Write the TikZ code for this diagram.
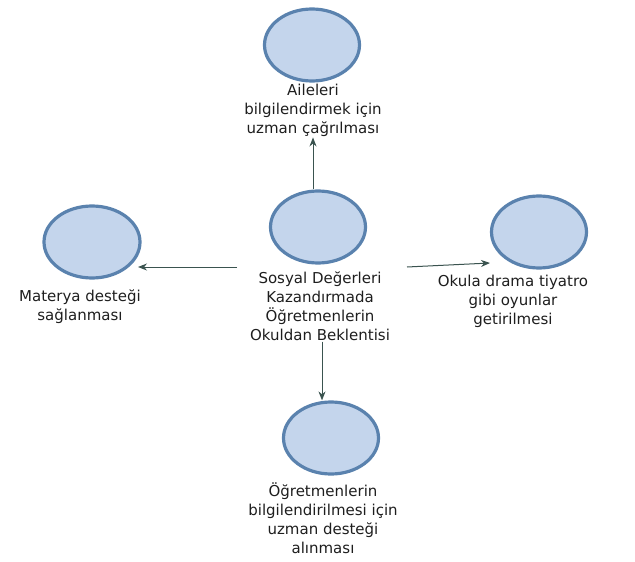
\documentclass[tikz,border=0pt]{standalone}
\usepackage{fontspec}
\setmainfont{DejaVu Sans}
\usetikzlibrary{shapes.geometric,arrows.meta}
\definecolor{ellfill}{HTML}{C4D5EC}
\definecolor{elldraw}{HTML}{5A82AE}
\definecolor{arrcol}{HTML}{3A534F}
\definecolor{txtcol}{HTML}{1E1E1E}
\tikzset{
  bubble/.style={ellipse, draw=elldraw, fill=ellfill, line width=3.2pt,
    minimum width=#1, minimum height=72pt, inner sep=0pt},
  bubble/.default=95pt,
  lbl/.style={align=center, text=txtcol, inner sep=1pt,
    font=\fontsize{15}{19}\selectfont},
  arr/.style={draw=arrcol, line width=1pt, -{Stealth[length=9pt,width=7pt]}}
}
\begin{document}
\begin{tikzpicture}[x=1pt,y=-1pt]
\useasboundingbox (0,0) rectangle (635,562);
% ellipses
\node[bubble] (T) at (312,45) {};
\node[bubble] (C) at (318,227) {};
\node[bubble=96pt] (L) at (92,242) {};
\node[bubble] (R) at (539,232) {};
\node[bubble] (B) at (331,438) {};
% labels
\node[lbl] (Tt) at (313,110) {Aileleri\\bilgilendirmek için\\uzman çağrılması};
\node[lbl] (Ct) at (320,306) {Sosyal Değerleri\\Kazandırmada\\Öğretmenlerin\\Okuldan Beklentisi};
\node[lbl] (Lt) at (80,307) {Materya desteği\\sağlanması};
\node[lbl] (Rt) at (513,301) {Okula drama tiyatro\\gibi oyunlar\\getirilmesi};
\node[lbl] (Bt) at (323,518) {Öğretmenlerin\\bilgilendirilmesi için\\uzman desteği\\alınması};
% connector ends
\coordinate (la) at (237,267);
\coordinate (lb) at (138,267);
\coordinate (ra) at (407,267);
\coordinate (rb) at (490,263);
% connectors
\draw[arr] (C.north -| Tt.south) -- (Tt.south);
\draw[arr] (la) -- (lb);
\draw[arr] (ra) -- (rb);
\draw[arr] (Ct.south) ++(2,0) coordinate (da) -- (da |- B.north);
\end{tikzpicture}
\end{document}
